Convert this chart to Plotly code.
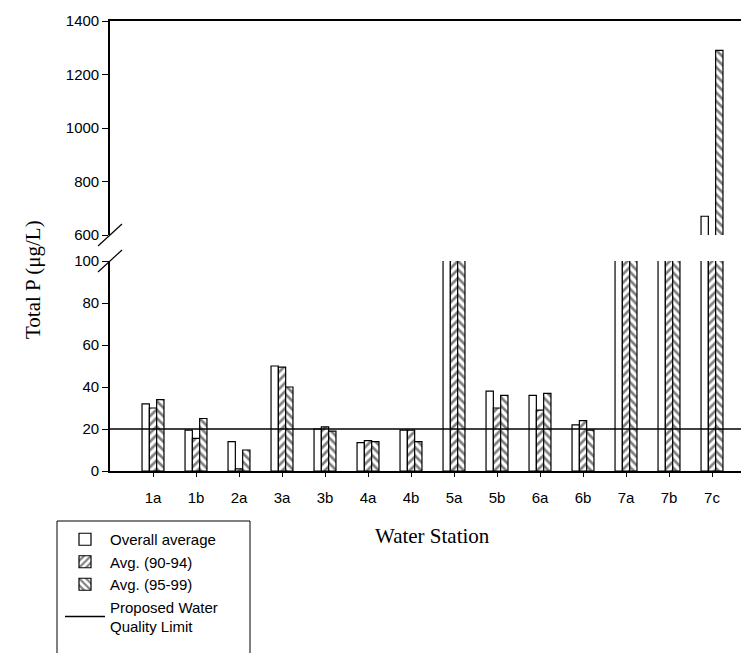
import plotly.graph_objects as go

# ---------------- data ----------------
stations = ["1a", "1b", "2a", "3a", "3b", "4a", "4b", "5a", "5b", "6a", "6b", "7a", "7b", "7c"]
overall = [32, 19.5, 14, 50, 20, 13.5, 19.5, 180, 38, 36, 22, 250, 300, 670]
avg_90_94 = [30, 15.5, 1, 49.5, 21, 14.5, 19.5, 200, 30, 29, 24, 270, 320, 400]
avg_95_99 = [34, 25, 10, 40, 19, 14, 14, 160, 36, 37, 19.5, 230, 280, 1290]
limit = 20
lower_ticks = [0, 20, 40, 60, 80, 100]
upper_ticks = [600, 800, 1000, 1200, 1400]
lower_range = [0, 100]
upper_range = [600, 1400]

series = [
    ("Overall average", overall, None),
    ("Avg. (90-94)", avg_90_94, dict(shape="/", fgcolor="black", bgcolor="white", size=6, solidity=0.45)),
    ("Avg. (95-99)", avg_95_99, dict(shape="\\", fgcolor="black", bgcolor="white", size=6, solidity=0.45)),
]

SANS = "Liberation Sans, Arial, sans-serif"
SERIF = "Liberation Serif, Times New Roman, serif"

fig = go.Figure()
for name, vals, patt in series:
    for xa, ya, show in (("x", "y", True), ("x2", "y2", False)):
        marker = dict(color="white", line=dict(color="black", width=1.2))
        if patt:
            marker["pattern"] = patt
        fig.add_trace(go.Bar(x=stations, y=vals, name=name, legendgroup=name, showlegend=show,
                             xaxis=xa, yaxis=ya, cliponaxis=True, marker=marker))

W, H = 749, 653
ML, MR, MT, MB = 102, 2, 13, 190
PH = H - MT - MB
PW = W - ML - MR


def py(pix):
    return (H - MB - pix) / PH


def px(pix):
    return (pix - ML) / PW


LOW_TOP = py(253)
UP_BOT = py(227)

axis_common = dict(showline=True, linecolor="black", linewidth=1.6, showgrid=False, zeroline=False,
                   ticks="outside", tickcolor="black", tickfont=dict(family=SANS, size=15, color="black"))

fig.update_layout(
    width=W, height=H,
    margin=dict(l=ML, r=MR, t=MT, b=MB, autoexpand=False),
    paper_bgcolor="white", plot_bgcolor="white",
    barmode="group", bargap=0.49, bargroupgap=0,
    xaxis=dict(axis_common, type="category", range=[-1, len(stations)], anchor="y", domain=[0, 1],
               ticklen=4, ticklabelstandoff=8),
    xaxis2=dict(type="category", matches="x", anchor="y2", side="top", showline=True, linecolor="black",
                linewidth=1.6, showticklabels=False, ticks="", showgrid=False, zeroline=False),
    yaxis=dict(axis_common, range=lower_range, tickvals=lower_ticks, domain=[0, LOW_TOP],
               mirror=True, ticklen=6, anchor="x"),
    yaxis2=dict(axis_common, range=upper_range, tickvals=upper_ticks, domain=[UP_BOT, 1],
                mirror=True, ticklen=6, anchor="x2"),
    legend=dict(x=px(52), y=py(515), xanchor="left", yanchor="top", bgcolor="rgba(0,0,0,0)",
                font=dict(family=SANS, size=15, color="black"), traceorder="normal", itemwidth=40),
    showlegend=True,
)

# proposed water-quality limit line
fig.add_shape(type="line", xref="paper", x0=0, x1=1, yref="y", y0=limit, y1=limit,
              line=dict(color="black", width=1.5), showlegend=True,
              name="Proposed Water<br>Quality Limit")

# axis break marks (paper-referenced so they are not clipped)
for xa in (0, 1):
    for yv in (UP_BOT, LOW_TOP):
        fig.add_shape(type="line", xref="paper", xsizemode="pixel", xanchor=xa, x0=-12, x1=12,
                      yref="paper", ysizemode="pixel", yanchor=yv, y0=-11, y1=11,
                      line=dict(color="black", width=1.2))

# legend frame
fig.add_shape(type="rect", xref="paper", yref="paper", x0=px(49), x1=px(242), y0=py(670), y1=py(513),
              line=dict(color="black", width=1), fillcolor="rgba(0,0,0,0)")

# axis titles
fig.add_annotation(text="Total P (μg/L)", xref="paper", yref="paper", x=px(25), y=py(272),
                   xanchor="center", yanchor="middle",
                   textangle=-90, showarrow=False, font=dict(family=SERIF, size=21, color="black"))
fig.add_annotation(text="Water Station", xref="paper", yref="paper", x=0.5, y=py(528),
                   xanchor="center", yanchor="middle",
                   showarrow=False, font=dict(family=SERIF, size=21, color="black"))

fig.write_html("out.html")
